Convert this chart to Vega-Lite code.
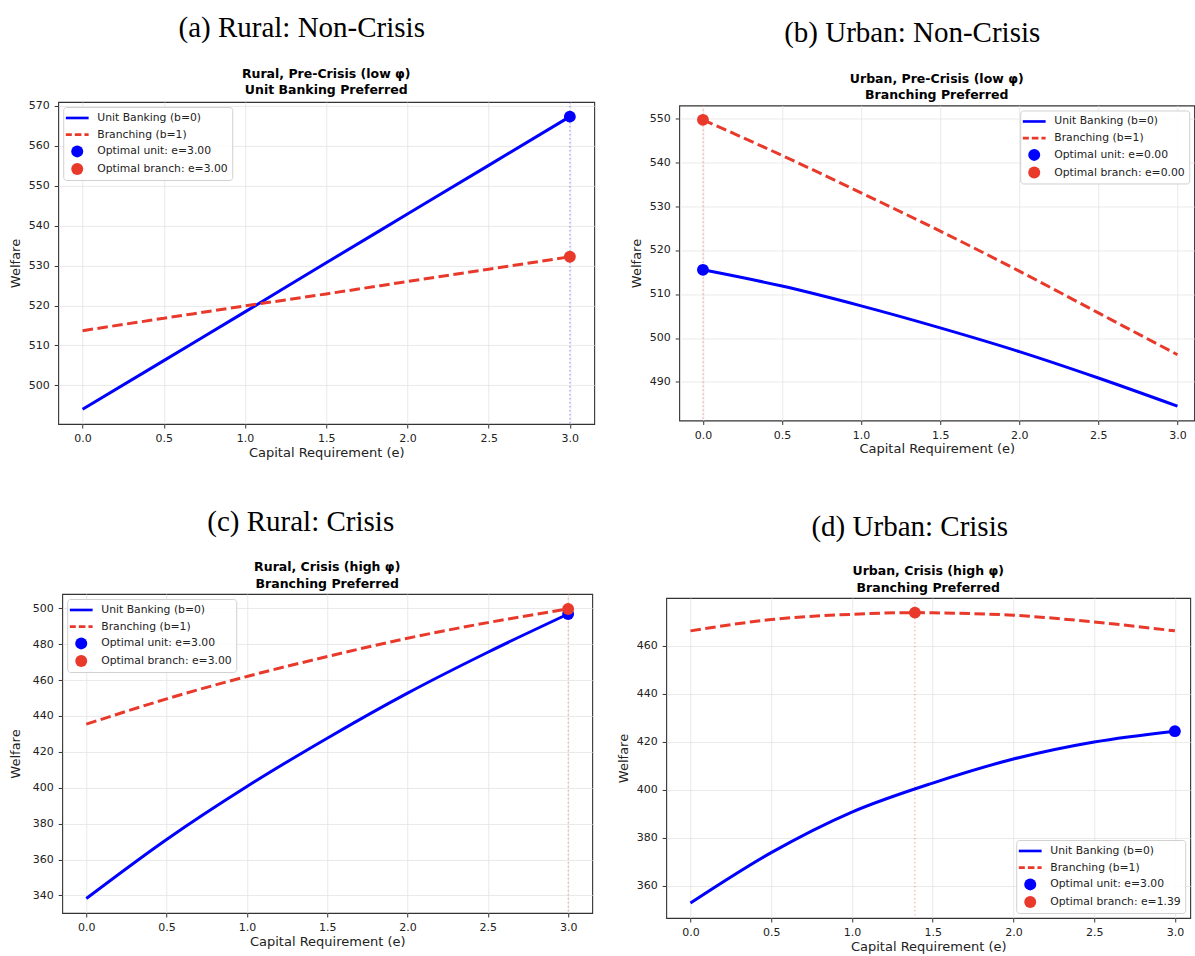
{
  "$schema": "https://vega.github.io/schema/vega-lite/v6.json",
  "background": "white",
  "padding": {"left": 8, "top": 13.5, "right": 0, "bottom": 0},
  "config": {
    "font": "DejaVu Sans",
    "view": {"stroke": "#333333", "strokeWidth": 1.1},
    "axis": {"grid": true, "gridColor": "#e3e3e3", "gridWidth": 0.8, "domain": false, "tickColor": "#333333", "tickSize": 4, "labelFontSize": 11, "labelColor": "#222222", "titleFontSize": 13, "titleFontWeight": "normal", "titleColor": "#222222", "labelPadding": 5, "labelFont": "DejaVu Sans", "titleFont": "DejaVu Sans"},
    "axisX": {"titlePadding": 2.5},
    "axisY": {"titlePadding": 6},
    "legend": {"title": null, "padding": 4, "offset": 5, "rowPadding": 4.7, "symbolOffset": 3, "labelOffset": 13, "symbolSize": 144, "strokeColor": "#d0d0d0", "fillColor": "rgba(255,255,255,0.85)", "cornerRadius": 3, "labelFontSize": 10.8, "labelFont": "DejaVu Sans", "labelColor": "#222222", "labelLimit": 300}
  },
  "spacing": 47,
  "center": true,
  "resolve": {"scale": {"x": "independent", "y": "independent", "color": "independent", "shape": "independent"}, "legend": {"color": "independent", "shape": "independent"}},
  "vconcat": [
    {
      "spacing": 34,
      "center": true,
      "resolve": {"scale": {"x": "independent", "y": "independent", "color": "independent", "shape": "independent"}, "legend": {"color": "independent", "shape": "independent"}},
      "hconcat": [
        {
          "title": {"text": "(a) Rural: Non-Crisis", "font": "Liberation Serif", "fontSize": 29, "fontWeight": "normal", "anchor": "middle", "frame": "bounds", "offset": 24, "color": "#000000"},
          "resolve": {"scale": {"x": "independent", "y": "independent", "color": "independent", "shape": "independent"}, "legend": {"color": "independent", "shape": "independent"}},
          "vconcat": [
            {
              "width": 536, "height": 322,
              "title": {"text": ["Rural, Pre-Crisis (low φ)", "Unit Banking Preferred"], "font": "DejaVu Sans", "fontSize": 12.5, "fontWeight": "bold", "lineHeight": 16.5, "anchor": "middle", "frame": "group", "offset": 3, "color": "#000000"},
              "data": {"values": [
                {"s": "v", "e": 3},
                {"s": "u", "e": 0, "w": 494.0}, {"s": "u", "e": 0.5, "w": 506.2}, {"s": "u", "e": 1.0, "w": 518.4}, {"s": "u", "e": 1.5, "w": 530.7}, {"s": "u", "e": 2.0, "w": 542.9}, {"s": "u", "e": 2.5, "w": 555.1}, {"s": "u", "e": 3.0, "w": 567.3},
                {"s": "b", "e": 0, "w": 513.7}, {"s": "b", "e": 0.5, "w": 516.8}, {"s": "b", "e": 1.0, "w": 519.9}, {"s": "b", "e": 1.5, "w": 522.9}, {"s": "b", "e": 2.0, "w": 526.0}, {"s": "b", "e": 2.5, "w": 529.1}, {"s": "b", "e": 3.0, "w": 532.2},
                {"s": "p", "e": 3, "w": 567.3, "lab": "Optimal unit: e=3.00"},
                {"s": "p", "e": 3, "w": 532.2, "lab": "Optimal branch: e=3.00"}
              ]},
              "encoding": {"x": {"field": "e", "type": "quantitative", "scale": {"domain": [-0.15, 3.15], "nice": false, "zero": false}, "axis": {"values": [0, 0.5, 1, 1.5, 2, 2.5, 3], "format": ".1f", "title": "Capital Requirement (e)"}}},
              "layer": [
                {"transform": [{"filter": "datum.s == 'v'"}], "mark": {"type": "rule", "color": "#0000ff", "opacity": 0.45, "strokeWidth": 1, "strokeDash": [1.5, 2.5]}, "encoding": {}},
                {"transform": [{"filter": "datum.s == 'u'"}], "mark": {"type": "line", "color": "#0000ff", "strokeWidth": 3, "interpolate": "monotone"},
                 "encoding": {"y": {"field": "w", "type": "quantitative", "scale": {"domain": [490.33, 570.97], "nice": false, "zero": false}, "axis": {"values": [500, 510, 520, 530, 540, 550, 560, 570], "title": "Welfare"}}}},
                {"transform": [{"filter": "datum.s == 'b'"}], "mark": {"type": "line", "color": "#e8392b", "strokeWidth": 3, "strokeDash": [10.5, 4.5], "interpolate": "monotone"},
                 "encoding": {"y": {"field": "w", "type": "quantitative", "scale": {"domain": [490.33, 570.97], "nice": false, "zero": false}, "axis": {"values": [500, 510, 520, 530, 540, 550, 560, 570], "title": "Welfare"}}}},
                {"transform": [{"filter": "datum.s == 'p'"}], "mark": {"type": "point", "filled": true, "opacity": 1, "size": 140},
                 "encoding": {
                   "y": {"field": "w", "type": "quantitative", "scale": {"domain": [490.33, 570.97], "nice": false, "zero": false}, "axis": {"values": [500, 510, 520, 530, 540, 550, 560, 570], "title": "Welfare"}},
                   "color": {"field": "lab", "type": "nominal", "scale": {"domain": ["Unit Banking (b=0)", "Branching (b=1)", "Optimal unit: e=3.00", "Optimal branch: e=3.00"], "range": ["#0000ff", "#e8392b", "#0000ff", "#e8392b"]}, "legend": {"orient": "top-left"}},
                   "shape": {"field": "lab", "type": "nominal", "scale": {"domain": ["Unit Banking (b=0)", "Branching (b=1)", "Optimal unit: e=3.00", "Optimal branch: e=3.00"], "range": ["M-1.9,-0.22H1.9V0.22H-1.9Z", "M-1.9,-0.22H-0.9V0.22H-1.9Z M-0.4,-0.22H0.7V0.22H-0.4Z M1.2,-0.22H1.9V0.22H1.2Z", "circle", "circle"]}, "legend": {"orient": "top-left"}}
                 }}
              ]
            }
          ]
        },
        {
          "title": {"text": "(b) Urban: Non-Crisis", "font": "Liberation Serif", "fontSize": 29, "fontWeight": "normal", "anchor": "middle", "frame": "bounds", "offset": 24, "color": "#000000"},
          "resolve": {"scale": {"x": "independent", "y": "independent", "color": "independent", "shape": "independent"}, "legend": {"color": "independent", "shape": "independent"}},
          "vconcat": [
            {
              "width": 515, "height": 315,
              "title": {"text": ["Urban, Pre-Crisis (low φ)", "Branching Preferred"], "font": "DejaVu Sans", "fontSize": 12.5, "fontWeight": "bold", "lineHeight": 16.5, "anchor": "middle", "frame": "group", "offset": 3, "color": "#000000"},
              "data": {"values": [
                {"s": "v", "e": 0},
                {"s": "u", "e": 0, "w": 515.5}, {"s": "u", "e": 0.5, "w": 511.8}, {"s": "u", "e": 1.0, "w": 507.3}, {"s": "u", "e": 1.5, "w": 502.3}, {"s": "u", "e": 2.0, "w": 496.9}, {"s": "u", "e": 2.5, "w": 490.9}, {"s": "u", "e": 3.0, "w": 484.5},
                {"s": "b", "e": 0, "w": 549.6}, {"s": "b", "e": 0.5, "w": 541.5}, {"s": "b", "e": 1.0, "w": 533.0}, {"s": "b", "e": 1.5, "w": 524.3}, {"s": "b", "e": 2.0, "w": 515.2}, {"s": "b", "e": 2.5, "w": 505.7}, {"s": "b", "e": 3.0, "w": 496.2},
                {"s": "p", "e": 0, "w": 515.5, "lab": "Optimal unit: e=0.00"},
                {"s": "p", "e": 0, "w": 549.6, "lab": "Optimal branch: e=0.00"}
              ]},
              "encoding": {"x": {"field": "e", "type": "quantitative", "scale": {"domain": [-0.15, 3.106], "nice": false, "zero": false}, "axis": {"values": [0, 0.5, 1, 1.5, 2, 2.5, 3], "format": ".1f", "title": "Capital Requirement (e)"}}},
              "layer": [
                {"transform": [{"filter": "datum.s == 'v'"}], "mark": {"type": "rule", "color": "#e8392b", "opacity": 0.45, "strokeWidth": 1, "strokeDash": [1.5, 2.5]}, "encoding": {}},
                {"transform": [{"filter": "datum.s == 'u'"}], "mark": {"type": "line", "color": "#0000ff", "strokeWidth": 3, "interpolate": "monotone"},
                 "encoding": {"y": {"field": "w", "type": "quantitative", "scale": {"domain": [481.245, 552.855], "nice": false, "zero": false}, "axis": {"values": [490, 500, 510, 520, 530, 540, 550], "title": "Welfare"}}}},
                {"transform": [{"filter": "datum.s == 'b'"}], "mark": {"type": "line", "color": "#e8392b", "strokeWidth": 3, "strokeDash": [10.5, 4.5], "interpolate": "monotone"},
                 "encoding": {"y": {"field": "w", "type": "quantitative", "scale": {"domain": [481.245, 552.855], "nice": false, "zero": false}, "axis": {"values": [490, 500, 510, 520, 530, 540, 550], "title": "Welfare"}}}},
                {"transform": [{"filter": "datum.s == 'p'"}], "mark": {"type": "point", "filled": true, "opacity": 1, "size": 140},
                 "encoding": {
                   "y": {"field": "w", "type": "quantitative", "scale": {"domain": [481.245, 552.855], "nice": false, "zero": false}, "axis": {"values": [490, 500, 510, 520, 530, 540, 550], "title": "Welfare"}},
                   "color": {"field": "lab", "type": "nominal", "scale": {"domain": ["Unit Banking (b=0)", "Branching (b=1)", "Optimal unit: e=0.00", "Optimal branch: e=0.00"], "range": ["#0000ff", "#e8392b", "#0000ff", "#e8392b"]}, "legend": {"orient": "top-right"}},
                   "shape": {"field": "lab", "type": "nominal", "scale": {"domain": ["Unit Banking (b=0)", "Branching (b=1)", "Optimal unit: e=0.00", "Optimal branch: e=0.00"], "range": ["M-1.9,-0.22H1.9V0.22H-1.9Z", "M-1.9,-0.22H-0.9V0.22H-1.9Z M-0.4,-0.22H0.7V0.22H-0.4Z M1.2,-0.22H1.9V0.22H1.2Z", "circle", "circle"]}, "legend": {"orient": "top-right"}}
                 }}
              ]
            }
          ]
        }
      ]
    },
    {
      "spacing": 23,
      "center": true,
      "resolve": {"scale": {"x": "independent", "y": "independent", "color": "independent", "shape": "independent"}, "legend": {"color": "independent", "shape": "independent"}},
      "hconcat": [
        {
          "title": {"text": "(c) Rural: Crisis", "font": "Liberation Serif", "fontSize": 29, "fontWeight": "normal", "anchor": "middle", "frame": "bounds", "offset": 24, "color": "#000000"},
          "resolve": {"scale": {"x": "independent", "y": "independent", "color": "independent", "shape": "independent"}, "legend": {"color": "independent", "shape": "independent"}},
          "vconcat": [
            {
              "width": 530, "height": 319,
              "title": {"text": ["Rural, Crisis (high φ)", "Branching Preferred"], "font": "DejaVu Sans", "fontSize": 12.5, "fontWeight": "bold", "lineHeight": 16.5, "anchor": "middle", "frame": "group", "offset": 3, "color": "#000000"},
              "data": {"values": [
                {"s": "v", "e": 3},
                {"s": "u", "e": 0, "w": 338.3}, {"s": "u", "e": 0.5, "w": 371.2}, {"s": "u", "e": 1.0, "w": 400.7}, {"s": "u", "e": 1.5, "w": 427.6}, {"s": "u", "e": 2.0, "w": 452.7}, {"s": "u", "e": 2.5, "w": 475.5}, {"s": "u", "e": 3.0, "w": 496.8},
                {"s": "b", "e": 0, "w": 435.4}, {"s": "b", "e": 0.5, "w": 449.5}, {"s": "b", "e": 1.0, "w": 462.0}, {"s": "b", "e": 1.5, "w": 473.1}, {"s": "b", "e": 2.0, "w": 483.3}, {"s": "b", "e": 2.5, "w": 492.0}, {"s": "b", "e": 3.0, "w": 499.6},
                {"s": "p", "e": 3, "w": 496.8, "lab": "Optimal unit: e=3.00"},
                {"s": "p", "e": 3, "w": 499.6, "lab": "Optimal branch: e=3.00"}
              ]},
              "encoding": {"x": {"field": "e", "type": "quantitative", "scale": {"domain": [-0.15, 3.15], "nice": false, "zero": false}, "axis": {"values": [0, 0.5, 1, 1.5, 2, 2.5, 3], "format": ".1f", "title": ["Capital Requirement (e)", ""], "titleLineHeight": 9}}},
              "layer": [
                {"transform": [{"filter": "datum.s == 'v'"}], "mark": {"type": "rule", "color": "#e8392b", "opacity": 0.45, "strokeWidth": 1, "strokeDash": [1.5, 2.5]}, "encoding": {}},
                {"transform": [{"filter": "datum.s == 'u'"}], "mark": {"type": "line", "color": "#0000ff", "strokeWidth": 3, "interpolate": "monotone"},
                 "encoding": {"y": {"field": "w", "type": "quantitative", "scale": {"domain": [330.2, 507.96], "nice": false, "zero": false}, "axis": {"values": [340, 360, 380, 400, 420, 440, 460, 480, 500], "title": "Welfare", "titlePadding": 10}}}},
                {"transform": [{"filter": "datum.s == 'b'"}], "mark": {"type": "line", "color": "#e8392b", "strokeWidth": 3, "strokeDash": [10.5, 4.5], "interpolate": "monotone"},
                 "encoding": {"y": {"field": "w", "type": "quantitative", "scale": {"domain": [330.2, 507.96], "nice": false, "zero": false}, "axis": {"values": [340, 360, 380, 400, 420, 440, 460, 480, 500], "title": "Welfare", "titlePadding": 10}}}},
                {"transform": [{"filter": "datum.s == 'p'"}], "mark": {"type": "point", "filled": true, "opacity": 1, "size": 140},
                 "encoding": {
                   "y": {"field": "w", "type": "quantitative", "scale": {"domain": [330.2, 507.96], "nice": false, "zero": false}, "axis": {"values": [340, 360, 380, 400, 420, 440, 460, 480, 500], "title": "Welfare", "titlePadding": 10}},
                   "color": {"field": "lab", "type": "nominal", "scale": {"domain": ["Unit Banking (b=0)", "Branching (b=1)", "Optimal unit: e=3.00", "Optimal branch: e=3.00"], "range": ["#0000ff", "#e8392b", "#0000ff", "#e8392b"]}, "legend": {"orient": "top-left"}},
                   "shape": {"field": "lab", "type": "nominal", "scale": {"domain": ["Unit Banking (b=0)", "Branching (b=1)", "Optimal unit: e=3.00", "Optimal branch: e=3.00"], "range": ["M-1.9,-0.22H1.9V0.22H-1.9Z", "M-1.9,-0.22H-0.9V0.22H-1.9Z M-0.4,-0.22H0.7V0.22H-0.4Z M1.2,-0.22H1.9V0.22H1.2Z", "circle", "circle"]}, "legend": {"orient": "top-left"}}
                 }}
              ]
            }
          ]
        },
        {
          "title": {"text": "(d) Urban: Crisis", "font": "Liberation Serif", "fontSize": 29, "fontWeight": "normal", "anchor": "middle", "frame": "bounds", "offset": 23, "dx": 6, "color": "#000000"},
          "resolve": {"scale": {"x": "independent", "y": "independent", "color": "independent", "shape": "independent"}, "legend": {"color": "independent", "shape": "independent"}},
          "vconcat": [
            {
              "width": 524, "height": 320,
              "title": {"text": ["Urban, Crisis (high φ)", "Branching Preferred"], "font": "DejaVu Sans", "fontSize": 12.5, "fontWeight": "bold", "lineHeight": 16.5, "anchor": "middle", "frame": "group", "offset": 3, "color": "#000000"},
              "data": {"values": [
                {"s": "v", "e": 1.39},
                {"s": "u", "e": 0, "w": 352.7}, {"s": "u", "e": 0.5, "w": 373.7}, {"s": "u", "e": 1.0, "w": 390.6}, {"s": "u", "e": 1.5, "w": 402.7}, {"s": "u", "e": 2.0, "w": 412.7}, {"s": "u", "e": 2.5, "w": 419.8}, {"s": "u", "e": 3.0, "w": 424.3},
                {"s": "b", "e": 0, "w": 466.1}, {"s": "b", "e": 0.5, "w": 470.8}, {"s": "b", "e": 1.0, "w": 473.0}, {"s": "b", "e": 1.39, "w": 473.7}, {"s": "b", "e": 1.5, "w": 473.6}, {"s": "b", "e": 2.0, "w": 472.6}, {"s": "b", "e": 2.5, "w": 469.8}, {"s": "b", "e": 3.0, "w": 466.1},
                {"s": "p", "e": 3, "w": 424.3, "lab": "Optimal unit: e=3.00"},
                {"s": "p", "e": 1.39, "w": 473.7, "lab": "Optimal branch: e=1.39"}
              ]},
              "encoding": {"x": {"field": "e", "type": "quantitative", "scale": {"domain": [-0.15, 3.095], "nice": false, "zero": false}, "axis": {"values": [0, 0.5, 1, 1.5, 2, 2.5, 3], "format": ".1f", "title": "Capital Requirement (e)"}}},
              "layer": [
                {"transform": [{"filter": "datum.s == 'v'"}], "mark": {"type": "rule", "color": "#e8392b", "opacity": 0.45, "strokeWidth": 1, "strokeDash": [1.5, 2.5]}, "encoding": {}},
                {"transform": [{"filter": "datum.s == 'u'"}], "mark": {"type": "line", "color": "#0000ff", "strokeWidth": 3, "interpolate": "monotone"},
                 "encoding": {"y": {"field": "w", "type": "quantitative", "scale": {"domain": [346.5, 479.8], "nice": false, "zero": false}, "axis": {"values": [360, 380, 400, 420, 440, 460], "title": "Welfare"}}}},
                {"transform": [{"filter": "datum.s == 'b'"}], "mark": {"type": "line", "color": "#e8392b", "strokeWidth": 3, "strokeDash": [10.5, 4.5], "interpolate": "monotone"},
                 "encoding": {"y": {"field": "w", "type": "quantitative", "scale": {"domain": [346.5, 479.8], "nice": false, "zero": false}, "axis": {"values": [360, 380, 400, 420, 440, 460], "title": "Welfare"}}}},
                {"transform": [{"filter": "datum.s == 'p'"}], "mark": {"type": "point", "filled": true, "opacity": 1, "size": 140},
                 "encoding": {
                   "y": {"field": "w", "type": "quantitative", "scale": {"domain": [346.5, 479.8], "nice": false, "zero": false}, "axis": {"values": [360, 380, 400, 420, 440, 460], "title": "Welfare"}},
                   "color": {"field": "lab", "type": "nominal", "scale": {"domain": ["Unit Banking (b=0)", "Branching (b=1)", "Optimal unit: e=3.00", "Optimal branch: e=1.39"], "range": ["#0000ff", "#e8392b", "#0000ff", "#e8392b"]}, "legend": {"orient": "bottom-right"}},
                   "shape": {"field": "lab", "type": "nominal", "scale": {"domain": ["Unit Banking (b=0)", "Branching (b=1)", "Optimal unit: e=3.00", "Optimal branch: e=1.39"], "range": ["M-1.9,-0.22H1.9V0.22H-1.9Z", "M-1.9,-0.22H-0.9V0.22H-1.9Z M-0.4,-0.22H0.7V0.22H-0.4Z M1.2,-0.22H1.9V0.22H1.2Z", "circle", "circle"]}, "legend": {"orient": "bottom-right"}}
                 }}
              ]
            }
          ]
        }
      ]
    }
  ]
}
